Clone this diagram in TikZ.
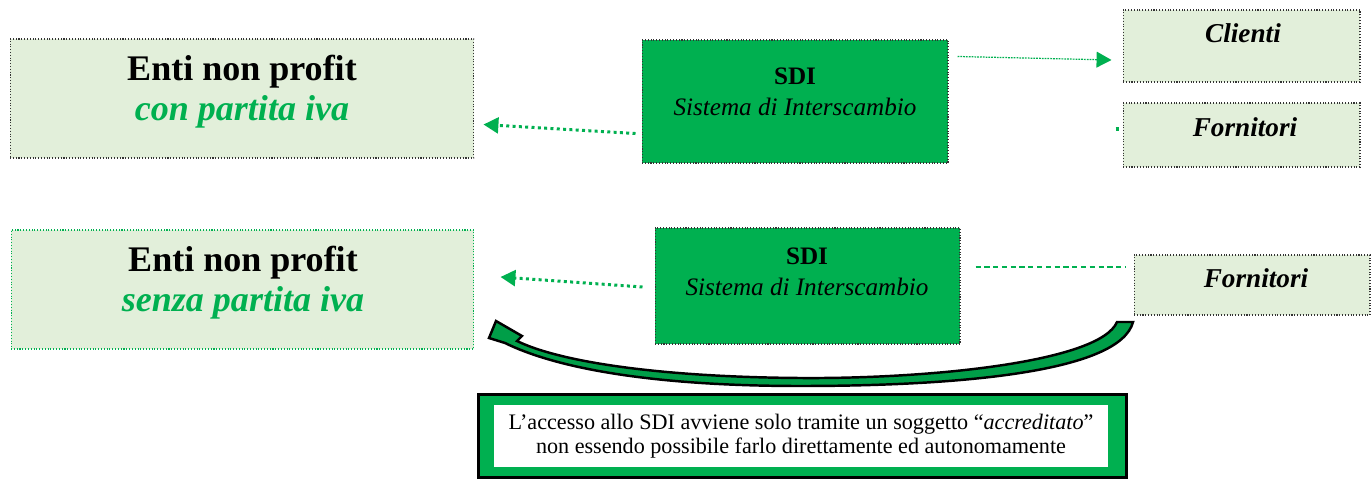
\documentclass[tikz,border=0pt]{standalone}
\usepackage{fontspec}
\setmainfont{Liberation Serif}
\usetikzlibrary{arrows.meta,positioning}
\definecolor{sdigreen}{HTML}{00B050}
\definecolor{palegreen}{HTML}{E2EFDA}

\begin{document}
\begin{tikzpicture}[x=0.02cm,y=-0.02cm,>={Triangle[length=8.5pt,width=9pt]},
  box/.style={draw=black!80,densely dotted,line width=0.6pt,fill=palegreen,inner sep=0pt},
  sdibox/.style={draw=black!80,densely dotted,line width=0.6pt,fill=sdigreen,inner sep=0pt},
  entitxt/.style={align=center,font=\fontsize{20.5}{22.7}\selectfont\bfseries},
  sditxt/.style={align=center,font=\fontsize{14.3}{17.6}\selectfont},
  soggtxt/.style={font=\fontsize{15.5}{18}\selectfont\bfseries\itshape},
  flow/.style={sdigreen,line width=1.7pt,dash pattern=on 1.7pt off 1.9pt},
  thinflow/.style={sdigreen,line width=0.7pt,dash pattern=on 1pt off 0.6pt},
  dashflow/.style={sdigreen,line width=1.2pt,dash pattern=on 3pt off 2pt}]
\useasboundingbox (0,0) rectangle (1371,479);

%Riquadri
\node (entiA) [box, minimum width=9.28cm, minimum height=2.38cm] at (242,98.5) {};
\node (sdiA) [sdibox, minimum width=6.12cm, minimum height=2.46cm] at (795,101.5) {};
\node (clienti) [box, minimum width=4.74cm, minimum height=1.44cm] at (1241.5,46) {};
\node (fornA) [box, minimum width=4.74cm, minimum height=1.28cm] at (1241.5,135) {};
\node (entiB) [box, draw=sdigreen, minimum width=9.26cm, minimum height=2.38cm] at (242.5,289.5) {};
\node (sdiB) [sdibox, minimum width=6.1cm, minimum height=2.32cm] at (807.5,286) {};
\node (fornB) [box, minimum width=4.72cm, minimum height=1.2cm] at (1252,285) {};

%Testi
\node (entiAtxt) [entitxt] at (242,92) {Enti non profit\\ \textcolor{sdigreen}{\itshape con partita iva}};
\node (sdiAtxt) [sditxt] at (795,92) {\bfseries SDI\\ \itshape Sistema di Interscambio};
\node (clientitxt) [soggtxt] at (1243,33) {Clienti};
\node (fornAtxt) [soggtxt] at (1245,127) {Fornitori};
\node (entiBtxt) [entitxt] at (243,283) {Enti non profit\\ \textcolor{sdigreen}{\itshape senza partita iva}};
\node (sdiBtxt) [sditxt] at (807,272) {\bfseries SDI\\ \itshape Sistema di Interscambio};
\node (fornBtxt) [soggtxt] at (1256,278) {Fornitori};

%Nota
\node (nota) [draw=black, line width=1.7pt, fill=sdigreen, minimum width=12.96cm, minimum height=1.66cm, inner sep=0pt] at (802.5,436) {};
\node (notatxt) [fill=white, minimum width=12.28cm, minimum height=1.24cm, inner sep=0pt, align=center,
  font=\fontsize{12.6}{13.8}\selectfont] at (801,436)
  {L’accesso allo SDI avviene solo tramite un soggetto “\textit{accreditato}”\\ non essendo possibile farlo direttamente ed autonomamente};

%Collegamenti
\draw[flow,->] ([shift={(-6,-30)}]sdiA.south west) -- ([shift={(9,-34)}]entiA.south east);
\draw[thinflow,->] ([shift={(9,17)}]sdiA.north east) -- ([shift={(-11,14)}]clienti.west);
\draw[sdigreen,line width=2.5pt] ([shift={(-7,-6)}]fornA.west) -- ([shift={(-4,-6)}]fornA.west);
\draw[flow,->] ([shift={(-12,1)}]sdiB.west) -- ([shift={(26,-12.5)}]entiB.east);
\draw[dashflow] ([shift={(15,-19)}]sdiB.east) -- ([shift={(-8,-18)}]fornB.west);

%Freccia curva
\draw[black,line width=1.4pt,fill=sdigreen!90!black,line join=miter]
  (1133,322) -- (1117,322) .. controls (1100,362) and (930,379) .. (800,378)
  .. controls (660,377) and (560,362) .. (517,341) -- (522,336) -- (496,321) -- (489,338) -- (505,343)
  .. controls (560,370) and (660,386) .. (800,386) .. controls (960,386) and (1120,372) .. (1133,322) -- cycle;
\end{tikzpicture}
\end{document}
